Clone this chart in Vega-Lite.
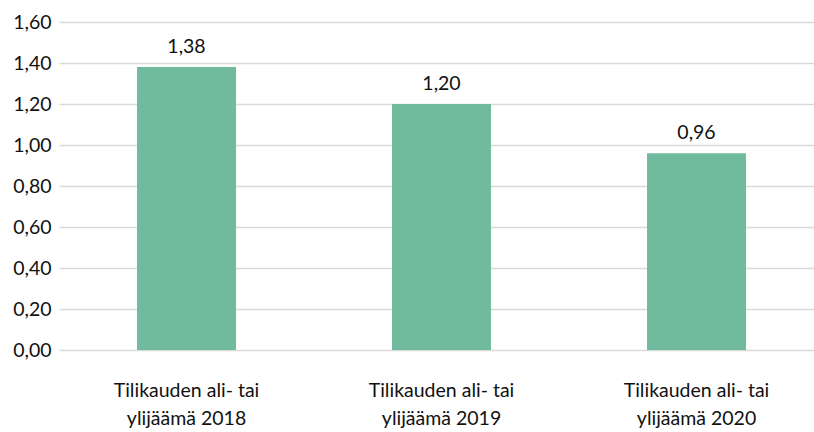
{
  "$schema": "https://vega.github.io/schema/vega-lite/v6.json",
  "width": 765,
  "height": 328,
  "padding": {"left": 12, "top": 12, "right": 0, "bottom": 0},
  "config": {
    "locale": {"number": {"decimal": ",", "thousands": " ", "grouping": [3], "currency": ["", " €"]}},
    "view": {"stroke": null},
    "font": "Lato"
  },
  "data": {"values": [
    {"kategoria": "Tilikauden ali- tai ylijäämä 2018", "arvo": 1.38},
    {"kategoria": "Tilikauden ali- tai ylijäämä 2019", "arvo": 1.20},
    {"kategoria": "Tilikauden ali- tai ylijäämä 2020", "arvo": 0.96}
  ]},
  "encoding": {
    "x": {"field": "kategoria", "type": "nominal", "sort": null,
      "scale": {"paddingInner": 0.612, "paddingOuter": 0.306},
      "axis": {"title": null, "labelAngle": 0, "ticks": false, "domain": false,
        "labelFont": "Lato", "labelFontSize": 19.5, "labelColor": "#111111", "labelPadding": 31, "labelLineHeight": 28,
        "labelExpr": "[slice(datum.label,0,19), slice(datum.label,20)]"}},
    "y": {"field": "arvo", "type": "quantitative",
      "scale": {"domain": [0, 1.6]},
      "axis": {"title": null, "values": [0, 0.2, 0.4, 0.6, 0.8, 1.0, 1.2, 1.4, 1.6], "format": ".2f",
        "ticks": false, "domain": false, "labelFont": "Lato", "labelFontSize": 19.5, "labelColor": "#111111",
        "labelPadding": 8, "gridColor": "#d9d9d9", "gridWidth": 1.5}}
  },
  "layer": [
    {"mark": {"type": "bar", "color": "#70BA9E"}},
    {"mark": {"type": "text", "dy": -20, "fontSize": 19.5, "font": "Lato", "color": "#111111"},
      "encoding": {"text": {"field": "arvo", "type": "quantitative", "format": ".2f"}}}
  ]
}
